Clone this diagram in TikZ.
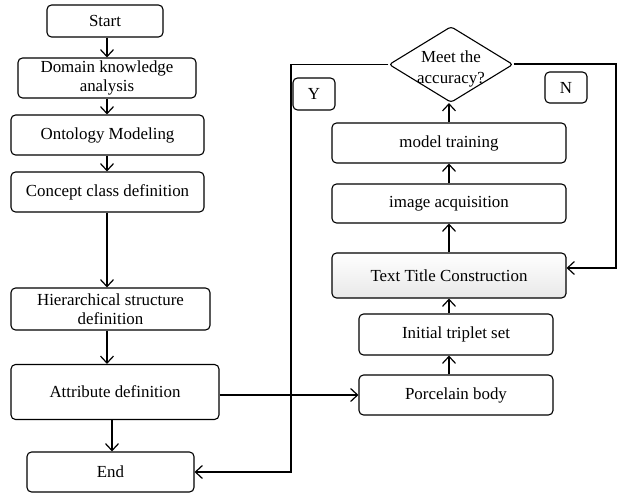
\documentclass[tikz,border=0pt]{standalone}
\usepackage{fontspec}
\setmainfont{Liberation Serif}
\usetikzlibrary{arrows.meta,shapes.geometric}
\begin{document}
\begin{tikzpicture}[x=1pt,y=-1pt,
  every node/.style={font=\fontsize{16.9}{19.5}\selectfont},
  box/.style={draw,line width=1.1pt,rounded corners=4.5pt,inner sep=0pt,align=center},
  dec/.style={draw,line width=1.1pt,shape=diamond,rounded corners=3pt,inner sep=0pt,minimum width=124pt,minimum height=76pt},
  arr/.style={line width=1.5pt,-{Straight Barb[length=7pt,width=13pt,line width=1.2pt]}},
  thk/.style={line width=2pt,-{Straight Barb[length=7pt,width=13pt,line width=1.2pt]}}]
\useasboundingbox (0,0) rectangle (618,494);
% left column
\node[box,minimum width=116pt,minimum height=32pt] (start) at (105,21) {Start};
\node[box,minimum width=178pt,minimum height=40pt] (dom) at (107,78) {Domain knowledge\\analysis};
\node[box,minimum width=193pt,minimum height=40pt] (onto) at (107.5,135) {Ontology Modeling};
\node[box,minimum width=193pt,minimum height=40pt] (conc) at (107.5,192) {Concept class definition};
\node[box,minimum width=199pt,minimum height=42pt] (hier) at (110.5,309) {Hierarchical structure\\definition};
\node[box,minimum width=208pt,minimum height=55pt] (attr) at (115,392) {Attribute definition};
\node[box,minimum width=167pt,minimum height=40pt] (end) at (110.5,472) {End};
% right column
\node[box,minimum width=194pt,minimum height=40pt] (porc) at (456,395) {Porcelain body};
\node[box,minimum width=194pt,minimum height=41pt] (init) at (456,334.5) {Initial triplet set};
\node[box,minimum width=234pt,minimum height=45pt,top color=white,bottom color=black!9] (ttc) at (449,275.5) {Text Title Construction};
\node[box,minimum width=234pt,minimum height=39pt] (img) at (449,203.5) {image acquisition};
\node[box,minimum width=234pt,minimum height=40pt] (mod) at (449,143) {model training};
\node[dec,label={[align=center,yshift=-4pt,font=\fontsize{16.9}{21}\selectfont]center:Meet the\\accuracy?}] (dia) at (451,64.5) {};
\node[box,minimum width=42pt,minimum height=32pt] (ylab) at (314,94) {Y};
\node[box,minimum width=42pt,minimum height=31pt] (nlab) at (566,87.5) {N};
\coordinate (yc) at (291,300);
\coordinate (nc) at (616,150);
\coordinate (lx) at (107,0);
\coordinate (ex) at (112,0);
% connectors left
\draw[arr] (start.south -| lx) -- (dom.north -| lx);
\draw[arr] (dom.south -| lx) -- (onto.north -| lx);
\draw[arr] (onto.south -| lx) -- (conc.north -| lx);
\draw[arr] (conc.south -| lx) -- (hier.north -| lx);
\draw[arr] (hier.south -| lx) -- (attr.north -| lx);
\draw[arr] (attr.south -| ex) -- (end.north -| ex);
\draw[arr] (porc.west -| attr.east) -- (porc.west);
% connectors right
\draw[thk] (porc.north -| mod.north) -- (init.south -| mod.north);
\draw[thk] (init.north -| mod.north) -- (ttc.south -| mod.north);
\draw[thk] (ttc.north -| mod.north) -- (img.south -| mod.north);
\draw[thk] (img.north -| mod.north) -- (mod.south);
\draw[thk] (mod.north) -- (dia.south -| mod.north);
% loops
\draw[arr] (dia.west) -| (yc) |- (end.east);
\draw[thk] (dia.east) -| (nc) |- ([yshift=7.5pt]ttc.east);
\end{tikzpicture}
\end{document}
